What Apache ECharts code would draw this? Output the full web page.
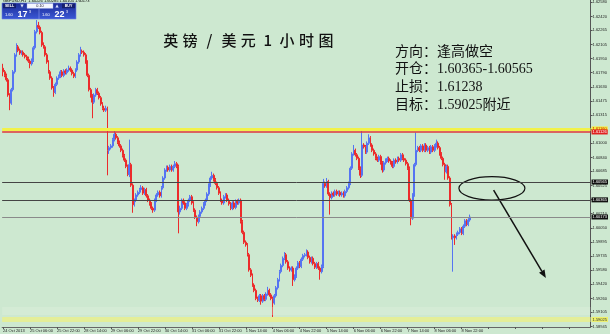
<!DOCTYPE html>
<html><head><meta charset="utf-8">
<script src="https://cdn.jsdelivr.net/npm/echarts@6/dist/echarts.min.js"></script>
<style>html,body{margin:0;padding:0;background:#cde8d0;overflow:hidden}#c{width:610px;height:334px}</style>
</head><body><div id="c"></div>
<script>
// ---- data (GBPUSD H1) ----
const tickLabels = ["24 Oct 2013","25 Oct 06:00","25 Oct 22:00","28 Oct 14:00","29 Oct 06:00","29 Oct 22:00","30 Oct 14:00","31 Oct 06:00","31 Oct 22:00","1 Nov 14:00","4 Nov 06:00","4 Nov 22:00","5 Nov 14:00","6 Nov 06:00","6 Nov 22:00","7 Nov 14:00","8 Nov 06:00","8 Nov 22:00"];
const priceTicks = [1.62580,1.62420,1.62265,1.62105,1.61950,1.61790,1.61630,1.61475,1.61315,1.61155,1.61000,1.60840,1.60685,1.60525,1.60370,1.60210,1.60050,1.59895,1.59735,1.59580,1.59420,1.59260,1.59105,1.58945];
const opens = [
1.6184,1.6180,1.6176,1.6171,1.6154,1.6145,1.6160,1.6180,1.6199,1.6208,
1.6204,1.6201,1.6202,1.6199,1.6197,1.6195,1.6192,1.6189,1.6193,1.6207,
1.6225,1.6232,1.6230,1.6224,1.6210,1.6208,1.6199,1.6191,1.6180,1.6173,
1.6162,1.6157,1.6166,1.6173,1.6175,1.6180,1.6176,1.6181,1.6179,1.6182,
1.6184,1.6182,1.6178,1.6175,1.6182,1.6191,1.6199,1.6203,1.6202,1.6199,
1.6191,1.6176,1.6160,1.6153,1.6146,1.6154,1.6160,1.6156,1.6151,1.6144,
1.6139,1.6137,1.6139,1.6092,1.6095,1.6097,1.6104,1.6110,1.6106,1.6101,
1.6097,1.6092,1.6086,1.6081,1.6074,1.6065,1.6076,1.6053,1.6031,1.6036,
1.6042,1.6045,1.6048,1.6050,1.6044,1.6048,1.6041,1.6036,1.6032,1.6027,
1.6025,1.6036,1.6042,1.6045,1.6041,1.6050,1.6061,1.6070,1.6073,1.6070,
1.6074,1.6070,1.6074,1.6077,1.6074,1.6023,1.6027,1.6036,1.6033,1.6027,
1.6031,1.6036,1.6040,1.6033,1.6025,1.6017,1.6012,1.6018,1.6023,1.6027,
1.6032,1.6036,1.6043,1.6053,1.6061,1.6064,1.6059,1.6055,1.6050,1.6044,
1.6036,1.6033,1.6040,1.6042,1.6036,1.6032,1.6027,1.6033,1.6028,1.6035,
1.6033,1.6036,1.6012,1.6000,1.5989,1.5986,1.5975,1.5958,1.5952,1.5941,
1.5935,1.5926,1.5924,1.5929,1.5923,1.5929,1.5925,1.5931,1.5935,1.5930,
1.5926,1.5921,1.5929,1.5938,1.5947,1.5956,1.5963,1.5971,1.5975,1.5967,
1.5960,1.5958,1.5960,1.5947,1.5951,1.5960,1.5966,1.5962,1.5970,1.5974,
1.5975,1.5978,1.5972,1.5967,1.5971,1.5965,1.5961,1.5965,1.5960,1.5956,
1.5962,1.6055,1.6052,1.6057,1.6043,1.6039,1.6044,1.6042,1.6046,1.6043,
1.6045,1.6042,1.6044,1.6041,1.6046,1.6050,1.6055,1.6072,1.6088,1.6092,
1.6087,1.6083,1.6072,1.6064,1.6098,1.6096,1.6090,1.6100,1.6106,1.6098,
1.6092,1.6088,1.6083,1.6081,1.6085,1.6078,1.6070,1.6078,1.6081,1.6083,
1.6080,1.6078,1.6074,1.6081,1.6079,1.6083,1.6081,1.6087,1.6083,1.6081,
1.6077,1.6072,1.6036,1.6016,1.6042,1.6076,1.6092,1.6095,1.6092,1.6097,
1.6092,1.6098,1.6092,1.6095,1.6090,1.6096,1.6092,1.6097,1.6100,1.6095,
1.6088,1.6083,1.6076,1.6068,1.6074,1.6061,1.6031,1.5994,1.5996,1.5994,
1.5998,1.6000,1.6004,1.5999,1.6007,1.6013,1.6009,1.6014];
const closes = [
1.6180,1.6176,1.6171,1.6154,1.6145,1.6160,1.6180,1.6199,1.6208,1.6204,
1.6201,1.6202,1.6199,1.6197,1.6195,1.6192,1.6189,1.6193,1.6207,1.6225,
1.6232,1.6230,1.6224,1.6210,1.6208,1.6199,1.6191,1.6180,1.6173,1.6162,
1.6157,1.6166,1.6173,1.6175,1.6180,1.6176,1.6181,1.6179,1.6182,1.6184,
1.6182,1.6178,1.6175,1.6182,1.6191,1.6199,1.6203,1.6202,1.6199,1.6191,
1.6176,1.6160,1.6153,1.6146,1.6154,1.6160,1.6156,1.6151,1.6144,1.6139,
1.6137,1.6139,1.6092,1.6095,1.6097,1.6104,1.6110,1.6106,1.6101,1.6097,
1.6092,1.6086,1.6081,1.6074,1.6065,1.6076,1.6053,1.6031,1.6036,1.6042,
1.6045,1.6048,1.6050,1.6044,1.6048,1.6041,1.6036,1.6032,1.6027,1.6025,
1.6036,1.6042,1.6045,1.6041,1.6050,1.6061,1.6070,1.6073,1.6070,1.6074,
1.6070,1.6074,1.6077,1.6074,1.6023,1.6027,1.6036,1.6033,1.6027,1.6031,
1.6036,1.6040,1.6033,1.6025,1.6017,1.6012,1.6018,1.6023,1.6027,1.6032,
1.6036,1.6043,1.6053,1.6061,1.6064,1.6059,1.6055,1.6050,1.6044,1.6036,
1.6033,1.6040,1.6042,1.6036,1.6032,1.6027,1.6033,1.6028,1.6035,1.6033,
1.6036,1.6012,1.6000,1.5989,1.5986,1.5975,1.5958,1.5952,1.5941,1.5935,
1.5926,1.5924,1.5929,1.5923,1.5929,1.5925,1.5931,1.5935,1.5930,1.5926,
1.5921,1.5929,1.5938,1.5947,1.5956,1.5963,1.5971,1.5975,1.5967,1.5960,
1.5958,1.5960,1.5947,1.5951,1.5960,1.5966,1.5962,1.5970,1.5974,1.5975,
1.5978,1.5972,1.5967,1.5971,1.5965,1.5961,1.5965,1.5960,1.5956,1.5962,
1.6055,1.6052,1.6057,1.6043,1.6039,1.6044,1.6042,1.6046,1.6043,1.6045,
1.6042,1.6044,1.6041,1.6046,1.6050,1.6055,1.6072,1.6088,1.6092,1.6087,
1.6083,1.6072,1.6064,1.6098,1.6096,1.6090,1.6100,1.6106,1.6098,1.6092,
1.6088,1.6083,1.6081,1.6085,1.6078,1.6070,1.6078,1.6081,1.6083,1.6080,
1.6078,1.6074,1.6081,1.6079,1.6083,1.6081,1.6087,1.6083,1.6081,1.6077,
1.6072,1.6036,1.6016,1.6042,1.6076,1.6092,1.6095,1.6092,1.6097,1.6092,
1.6098,1.6092,1.6095,1.6090,1.6096,1.6092,1.6097,1.6100,1.6095,1.6088,
1.6083,1.6076,1.6068,1.6074,1.6061,1.6031,1.5994,1.5996,1.5994,1.5998,
1.6000,1.6004,1.5999,1.6007,1.6013,1.6009,1.6014,1.60173];
const highs = [
1.6189,1.6182,1.6178,1.6173,1.6156,1.6162,1.6182,1.6201,1.6212,1.6210,
1.6206,1.6204,1.6204,1.6201,1.6199,1.6197,1.6194,1.6195,1.6209,1.6227,
1.6238,1.6236,1.6232,1.6226,1.6213,1.6210,1.6201,1.6193,1.6182,1.6175,
1.6164,1.6168,1.6175,1.6177,1.6182,1.6182,1.6183,1.6183,1.6184,1.6187,
1.6186,1.6184,1.6180,1.6184,1.6193,1.6201,1.6208,1.6205,1.6204,1.6201,
1.6193,1.6178,1.6162,1.6155,1.6156,1.6162,1.6162,1.6158,1.6153,1.6146,
1.6142,1.6142,1.6141,1.6097,1.6099,1.6106,1.6115,1.6112,1.6108,1.6103,
1.6099,1.6094,1.6088,1.6083,1.6076,1.6104,1.6078,1.6055,1.6038,1.6044,
1.6047,1.6050,1.6053,1.6052,1.6050,1.6050,1.6043,1.6038,1.6034,1.6029,
1.6038,1.6044,1.6047,1.6047,1.6052,1.6063,1.6072,1.6075,1.6075,1.6076,
1.6076,1.6076,1.6080,1.6079,1.6076,1.6030,1.6038,1.6038,1.6035,1.6033,
1.6038,1.6042,1.6042,1.6035,1.6027,1.6019,1.6020,1.6025,1.6029,1.6034,
1.6038,1.6045,1.6055,1.6063,1.6068,1.6066,1.6061,1.6057,1.6052,1.6046,
1.6038,1.6042,1.6044,1.6044,1.6038,1.6034,1.6035,1.6035,1.6037,1.6037,
1.6038,1.6038,1.6014,1.6002,1.5991,1.5988,1.5977,1.5960,1.5954,1.5943,
1.5937,1.5928,1.5931,1.5931,1.5931,1.5931,1.5933,1.5939,1.5937,1.5932,
1.5928,1.5931,1.5940,1.5949,1.5958,1.5965,1.5973,1.5978,1.5977,1.5969,
1.5962,1.5962,1.5962,1.5953,1.5962,1.5968,1.5968,1.5972,1.5976,1.5977,
1.5981,1.5980,1.5974,1.5973,1.5973,1.5967,1.5967,1.5967,1.5962,1.5964,
1.6060,1.6057,1.6061,1.6059,1.6045,1.6046,1.6046,1.6048,1.6048,1.6047,
1.6047,1.6046,1.6046,1.6048,1.6052,1.6057,1.6074,1.6090,1.6098,1.6094,
1.6089,1.6085,1.6074,1.6115,1.6100,1.6098,1.6102,1.6110,1.6108,1.6100,
1.6094,1.6090,1.6085,1.6087,1.6087,1.6080,1.6080,1.6083,1.6085,1.6085,
1.6082,1.6080,1.6083,1.6083,1.6085,1.6085,1.6089,1.6089,1.6085,1.6083,
1.6079,1.6074,1.6038,1.6044,1.6078,1.6112,1.6097,1.6097,1.6099,1.6099,
1.6100,1.6100,1.6097,1.6097,1.6098,1.6098,1.6099,1.6104,1.6102,1.6097,
1.6090,1.6085,1.6078,1.6076,1.6076,1.6063,1.6033,1.5998,1.5998,1.6000,
1.6002,1.6006,1.6006,1.6009,1.6015,1.6015,1.6016,1.6020];
const lows = [
1.6175,1.6174,1.6169,1.6152,1.6137,1.6143,1.6158,1.6178,1.6197,1.6202,
1.6199,1.6199,1.6197,1.6195,1.6193,1.6190,1.6184,1.6187,1.6191,1.6205,
1.6223,1.6228,1.6222,1.6208,1.6206,1.6197,1.6189,1.6178,1.6171,1.6160,
1.6152,1.6155,1.6164,1.6171,1.6173,1.6174,1.6174,1.6177,1.6177,1.6180,
1.6180,1.6176,1.6173,1.6173,1.6180,1.6189,1.6197,1.6200,1.6197,1.6189,
1.6174,1.6158,1.6151,1.6128,1.6144,1.6152,1.6154,1.6149,1.6142,1.6137,
1.6135,1.6135,1.6064,1.6088,1.6093,1.6095,1.6102,1.6104,1.6099,1.6095,
1.6090,1.6084,1.6079,1.6072,1.6063,1.6062,1.6051,1.6022,1.6029,1.6034,
1.6040,1.6043,1.6046,1.6042,1.6042,1.6039,1.6034,1.6030,1.6025,1.6022,
1.6023,1.6034,1.6040,1.6039,1.6039,1.6048,1.6059,1.6068,1.6068,1.6068,
1.6068,1.6068,1.6072,1.6072,1.5999,1.6020,1.6025,1.6031,1.6025,1.6025,
1.6029,1.6034,1.6031,1.6023,1.6015,1.6007,1.6010,1.6016,1.6021,1.6025,
1.6030,1.6034,1.6041,1.6051,1.6059,1.6057,1.6053,1.6048,1.6042,1.6034,
1.6031,1.6031,1.6038,1.6034,1.6030,1.6025,1.6025,1.6026,1.6026,1.6031,
1.6031,1.6010,1.5998,1.5987,1.5984,1.5973,1.5956,1.5950,1.5939,1.5933,
1.5924,1.5922,1.5922,1.5919,1.5921,1.5923,1.5923,1.5929,1.5928,1.5924,
1.5904,1.5919,1.5927,1.5936,1.5945,1.5954,1.5961,1.5969,1.5965,1.5958,
1.5956,1.5956,1.5940,1.5945,1.5949,1.5958,1.5960,1.5960,1.5968,1.5972,
1.5973,1.5970,1.5965,1.5965,1.5963,1.5959,1.5959,1.5958,1.5947,1.5954,
1.5960,1.6050,1.6050,1.6041,1.6020,1.6037,1.6040,1.6040,1.6041,1.6041,
1.6040,1.6040,1.6039,1.6039,1.6044,1.6048,1.6053,1.6070,1.6086,1.6085,
1.6081,1.6070,1.6061,1.6062,1.6094,1.6088,1.6088,1.6098,1.6096,1.6090,
1.6086,1.6081,1.6079,1.6079,1.6076,1.6067,1.6068,1.6076,1.6079,1.6078,
1.6076,1.6072,1.6072,1.6077,1.6077,1.6079,1.6079,1.6081,1.6079,1.6075,
1.6070,1.6034,1.6008,1.6014,1.6040,1.6074,1.6090,1.6090,1.6090,1.6090,
1.6090,1.6090,1.6090,1.6088,1.6088,1.6090,1.6090,1.6095,1.6093,1.6086,
1.6081,1.6074,1.6059,1.6066,1.6059,1.6029,1.5992,1.5956,1.5986,1.5992,
1.5996,1.5998,1.5997,1.5997,1.6005,1.6007,1.6007,1.6012];

// horizontal levels
const resistanceLine = 1.61160;
const stopLine = 1.61126;
const entryHigh = 1.60565;
const entryLow = 1.60365;
const bidPrice = 1.60173;
const lightBand = 1.59120;
const targetLine = 1.59025;
const slotCount = 349;   // visible hourly slots on the chart

const titleText = "英镑/美元1小时图";
const noteLines = ["方向：逢高做空", "开仓：1.60365-1.60565", "止损：1.61238", "目标：1.59025附近"];

// annotation anchors in data space [bar index, price]
const zoneCenter = [289.8, 1.60494];
const arrowFrom = [290.8, 1.60475];
const arrowTo = [322.0, 1.59489];

// ---- build ----
const categories = [];
for (let i = 0; i < slotCount; i++) categories.push(String(i));
const candles = opens.map((o, i) => [o, closes[i], lows[i], highs[i]]);

const chart = echarts.init(document.getElementById('c'), null, {renderer: 'canvas'});
const fmt5 = v => Number(v).toFixed(5);
function lvl(value, color, width, labelBg, labelColor, showLabel) {
  return {
    yAxis: value,
    lineStyle: {color: color, width: width, type: 'solid'},
    label: {
      show: showLabel, position: 'end', distance: 1, formatter: p => fmt5(p.value),
      backgroundColor: labelBg, color: labelColor, fontSize: 4, padding: [1, 1, 0, 1],
      fontFamily: 'Liberation Sans'
    }
  };
}

chart.setOption({
  animation: false,
  backgroundColor: '#cde8d0',
  grid: {left: 0, right: 17, top: 0, bottom: 7, containLabel: false},
  xAxis: {
    type: 'category', data: categories, boundaryGap: true,
    axisLine: {show: true, lineStyle: {color: '#666', width: 1}},
    axisTick: {show: true, interval: 15, length: 2, alignWithLabel: true, lineStyle: {color: '#555'}},
    axisLabel: {
      interval: 15, fontSize: 4, color: '#222', align: 'left', margin: 2,
      fontFamily: 'Liberation Sans',
      formatter: (v, i) => tickLabels[i / 16] || ''
    },
    splitLine: {show: false}
  },
  yAxis: {
    type: 'value', position: 'right', min: 1.58940, max: 1.62605,
    axisLine: {show: true, lineStyle: {color: '#555', width: 1}},
    axisTick: {show: true, length: 2, customValues: priceTicks, lineStyle: {color: '#555'}},
    axisLabel: {
      customValues: priceTicks, fontSize: 4, color: '#222', margin: 2,
      fontFamily: 'Liberation Sans', formatter: v => fmt5(v)
    },
    splitLine: {show: false}
  },
  series: [{
    type: 'candlestick',
    data: candles,
    barWidth: 1.4,
    itemStyle: {
      color: '#5574f2', color0: '#ec2b2b',
      borderColor: '#5574f2', borderColor0: '#ec2b2b', borderColorDoji: '#ec2b2b',
      borderWidth: 1
    },
    markLine: {
      silent: true, symbol: ['none', 'none'], animation: false, precision: 5,
      data: [
        lvl(lightBand, 'rgba(230,242,226,0.3)', 8, 'transparent', '#000', false),
        lvl(targetLine, '#e4ee98', 5, '#eef06a', '#333', true),
        lvl(entryHigh, '#444', 1, '#111', '#fff', true),
        lvl(entryLow, '#444', 1, '#111', '#fff', true),
        lvl(bidPrice, '#8a8a8a', 1, '#111', '#fff', true),
        lvl(resistanceLine, '#f2f24a', 3, '#f4f03a', '#c00', true),
        lvl(stopLine, '#e0383a', 1.5, '#e02020', '#fff', true)
      ]
    }
  }]
});

// ---- annotations & decorations ----
const c0 = chart.convertToPixel({xAxisIndex: 0, yAxisIndex: 0}, zoneCenter);
const a0 = chart.convertToPixel({xAxisIndex: 0, yAxisIndex: 0}, arrowFrom);
const a1 = chart.convertToPixel({xAxisIndex: 0, yAxisIndex: 0}, arrowTo);
const dx = a1[0] - a0[0], dy = a1[1] - a0[1], len = Math.hypot(dx, dy);
const ux = dx / len, uy = dy / len;
const headLen = 8, headHalf = 3.2;
const bx = a1[0] - ux * headLen, by = a1[1] - uy * headLen;

const cjk = '"Noto Sans CJK SC"';
const mixed = '"Liberation Serif", "Noto Sans CJK SC"';
const graphics = [];

// title, one glyph per slot
const titleChars = Array.from(titleText);
titleChars.forEach((ch, k) => {
  graphics.push({type: 'text', style: {text: ch, x: 170.7 + k * 19.4, y: 40, fill: '#111',
    font: '500 15px ' + cjk, textAlign: 'center', textVerticalAlign: 'middle'}});
});
noteLines.forEach((t, k) => {
  graphics.push({type: 'text', style: {text: t, x: 395, y: 52 + k * 17.7, fill: '#111',
    font: '14px ' + mixed, textAlign: 'left', textVerticalAlign: 'middle'}});
});

// ellipse + arrow
graphics.push({type: 'ellipse', shape: {cx: c0[0], cy: c0[1], rx: 33, ry: 11.7},
  style: {fill: 'none', stroke: '#111', lineWidth: 1.2}});
graphics.push({type: 'line', shape: {x1: a0[0], y1: a0[1], x2: bx, y2: by},
  style: {stroke: '#111', lineWidth: 1.5}});
graphics.push({type: 'polygon', shape: {points: [[a1[0], a1[1]],
  [bx - uy * headHalf, by + ux * headHalf], [bx + uy * headHalf, by - ux * headHalf]]},
  style: {fill: '#111'}});

// one-click trading panel (top-left)
graphics.push({type: 'text', style: {text: 'GBPUSD,H1  1.60226 1.60285 1.60105 1.60173', x: 3, y: 0.5,
  font: '4px "Liberation Sans"', fill: '#000', textVerticalAlign: 'middle'}});
graphics.push({type: 'rect', shape: {x: 2, y: 3, width: 74, height: 16},
  style: {fill: new echarts.graphic.LinearGradient(0, 0, 0, 1, [{offset: 0, color: '#1d2c95'}, {offset: 1, color: '#3a58d6'}]),
  stroke: '#6f7fe0', lineWidth: 0.6}});
graphics.push({type: 'line', shape: {x1: 39, y1: 9, x2: 39, y2: 19}, style: {stroke: '#8fa0f0', lineWidth: 0.6}});
graphics.push({type: 'rect', shape: {x: 3, y: 3.6, width: 13, height: 4.6}, style: {fill: '#16206e'}});
graphics.push({type: 'rect', shape: {x: 62, y: 3.6, width: 13, height: 4.6}, style: {fill: '#16206e'}});
graphics.push({type: 'rect', shape: {x: 27, y: 3.4, width: 26, height: 5}, style: {fill: '#f4f6ff', stroke: '#9aa6e8', lineWidth: 0.4}});
const panelTexts = [
  ['SELL', 9.5, 6, 'bold 3.6px "Liberation Sans"', '#fff', 'center'],
  ['▼', 22, 6, '4px "DejaVu Sans"', '#dfe4ff', 'center'],
  ['0.10', 40, 6, '3.8px "Liberation Sans"', '#223', 'center'],
  ['▲', 57, 6, '4px "DejaVu Sans"', '#dfe4ff', 'center'],
  ['BUY', 68.5, 6, 'bold 3.6px "Liberation Sans"', '#fff', 'center'],
  ['1.60', 5, 15, '4px "Liberation Sans"', '#fff', 'left'],
  ['17', 17.5, 14.2, 'bold 9px "Liberation Sans"', '#fff', 'left'],
  ['3', 29, 11.5, '3.6px "Liberation Sans"', '#fff', 'left'],
  ['1.60', 42, 15, '4px "Liberation Sans"', '#fff', 'left'],
  ['22', 54.5, 14.2, 'bold 9px "Liberation Sans"', '#fff', 'left'],
  ['3', 66, 11.5, '3.6px "Liberation Sans"', '#fff', 'left']
];
panelTexts.forEach(t => graphics.push({type: 'text', style: {text: t[0], x: t[1], y: t[2], font: t[3],
  fill: t[4], textAlign: t[5], textVerticalAlign: 'middle'}}));

chart.setOption({graphic: graphics});
</script></body></html>
